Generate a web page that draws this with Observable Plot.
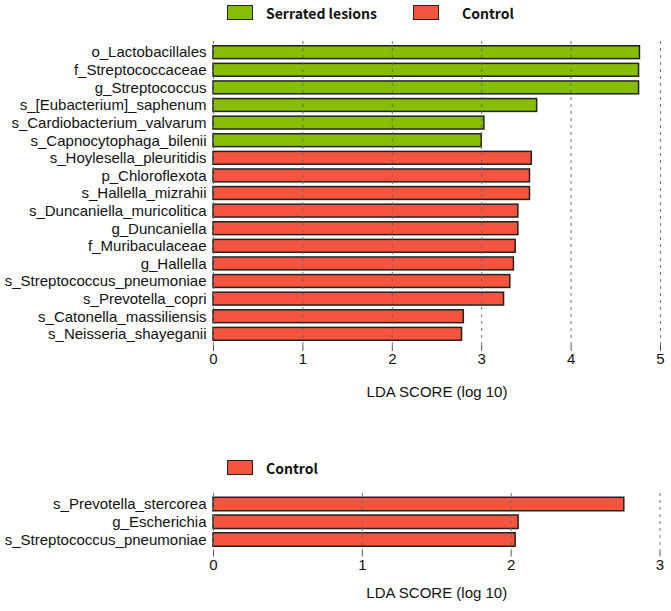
<!DOCTYPE html>
<html>
<head>
<meta charset="utf-8">
<script src="https://cdn.jsdelivr.net/npm/d3@7"></script>
<script src="https://cdn.jsdelivr.net/npm/@observablehq/plot@0.6"></script>
<style>
  body { margin: 0; background: #fff; width: 671px; height: 611px; position: relative; overflow: hidden;
         font-family: "Liberation Sans", Arial, sans-serif; }
  .panel { position: absolute; left: 0; }
  .legend { position: absolute; left: 0; width: 671px; height: 18px;
            font-family: "Noto Sans CJK KR", "Liberation Sans", sans-serif; font-weight: 700;
            font-size: 14px; color: #111; }
  .legend .item { position: absolute; top: 0; display: flex; align-items: center; height: 17px; }
  .legend .item:nth-child(1) { left: 227px; }
  .legend .item:nth-child(2) { left: 413px; }
  .legend .swatch { width: 24px; height: 13.5px; border: 1.5px solid #222; margin-right: 13px; }
  .legend .item:nth-child(2) .swatch { margin-right: 23px; }
</style>
</head>
<body>
<div id="legend-top" class="legend" style="top:4px"></div>
<div id="panel-top" class="panel" style="top:0"></div>
<div id="legend-bottom" class="legend" style="top:459px"></div>
<div id="panel-bottom" class="panel" style="top:480px"></div>
<script>
// LEfSe results: taxa ranked by LDA score (log 10), coloured by the enriched group
const groups = ["Serrated lesions", "Control"];
const groupColors = ["#86bd00", "#f5543f"];

const topTaxa = [
  "o_Lactobacillales", "f_Streptococcaceae", "g_Streptococcus", "s_[Eubacterium]_saphenum",
  "s_Cardiobacterium_valvarum", "s_Capnocytophaga_bilenii", "s_Hoylesella_pleuritidis",
  "p_Chloroflexota", "s_Hallella_mizrahii", "s_Duncaniella_muricolitica", "g_Duncaniella",
  "f_Muribaculaceae", "g_Hallella", "s_Streptococcus_pneumoniae", "s_Prevotella_copri",
  "s_Catonella_massiliensis", "s_Neisseria_shayeganii"
];
const topScores = [4.77, 4.76, 4.76, 3.62, 3.03, 3.00, 3.56, 3.54, 3.54, 3.41, 3.41, 3.38, 3.36, 3.32, 3.25, 2.80, 2.78];
const topGroup = [
  "Serrated lesions", "Serrated lesions", "Serrated lesions", "Serrated lesions", "Serrated lesions", "Serrated lesions",
  "Control", "Control", "Control", "Control", "Control", "Control", "Control", "Control", "Control", "Control", "Control"
];
const topTicks = [0, 1, 2, 3, 4, 5];

const bottomTaxa = ["s_Prevotella_stercorea", "g_Escherichia", "s_Streptococcus_pneumoniae"];
const bottomScores = [2.76, 2.05, 2.03];
const bottomGroup = ["Control", "Control", "Control"];
const bottomTicks = [0, 1, 2, 3];

const axisLabel = "LDA SCORE (log 10)";

function legend(el, names) {
  for (const name of names) {
    const item = document.createElement("div");
    item.className = "item";
    const sw = document.createElement("div");
    sw.className = "swatch";
    sw.style.background = groupColors[groups.indexOf(name)];
    const txt = document.createElement("span");
    txt.textContent = name;
    item.append(sw, txt);
    el.append(item);
  }
}

function ldaPanel(taxa, scores, cls, ticks, layout) {
  const rows = taxa.map((taxon, i) => ({taxon, lda: scores[i], group: cls[i]}));
  return Plot.plot({
    width: 671,
    height: layout.height,
    marginLeft: 213,
    marginRight: layout.marginRight,
    marginTop: layout.marginTop,
    marginBottom: layout.marginBottom,
    style: {fontFamily: "'Liberation Sans', Arial, sans-serif", fontSize: "15px", color: "#111", background: "transparent"},
    x: {domain: [ticks[0], ticks[ticks.length - 1]]},
    y: {domain: taxa, padding: layout.padding, round: false},
    color: {domain: groups, range: groupColors},
    marks: [
      Plot.barX(rows, {x: "lda", y: "taxon", fill: "group", stroke: "#222", strokeWidth: 1.5}),
      Plot.gridX(ticks, {stroke: "#666", strokeOpacity: 0.9, strokeDasharray: "3,4"}),
      Plot.axisX(ticks, {
        tickSize: 6, tickPadding: 2, stroke: "#555", fontSize: 15, tickFormat: "d",
        label: axisLabel, labelAnchor: "center", labelArrow: "none", labelOffset: layout.labelOffset
      }),
      Plot.axisY({tickSize: 0, tickPadding: 7, label: null, fontSize: 15})
    ]
  });
}

legend(document.getElementById("legend-top"), groups);
legend(document.getElementById("legend-bottom"), ["Control"]);

document.getElementById("panel-top").append(
  ldaPanel(topTaxa, topScores, topGroup, topTicks,
    {height: 410, marginTop: 41, marginBottom: 65, marginRight: 11, padding: 0.27, labelOffset: 51})
);
document.getElementById("panel-bottom").append(
  ldaPanel(bottomTaxa, bottomScores, bottomGroup, bottomTicks,
    {height: 131, marginTop: 13, marginBottom: 60.5, marginRight: 11.5, padding: 0.24, labelOffset: 47})
);
</script>
</body>
</html>
